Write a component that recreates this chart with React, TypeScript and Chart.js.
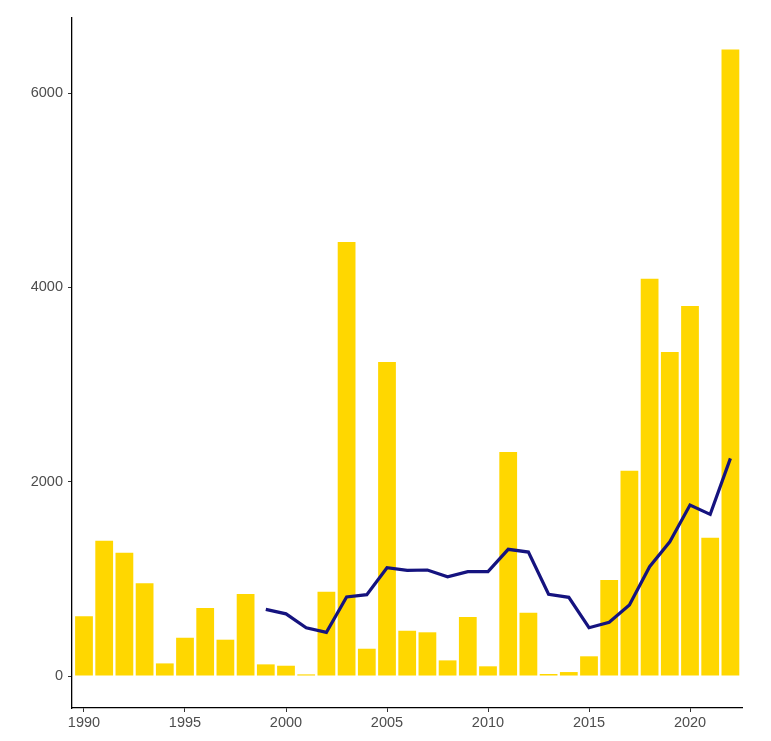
import React, { useEffect, useRef } from "react";
import { Chart, registerables } from "chart.js";

Chart.register(...registerables);

const years = [
  1990, 1991, 1992, 1993, 1994, 1995, 1996, 1997, 1998, 1999, 2000, 2001,
  2002, 2003, 2004, 2005, 2006, 2007, 2008, 2009, 2010, 2011, 2012, 2013,
  2014, 2015, 2016, 2017, 2018, 2019, 2020, 2021, 2022,
];
const barValues = [
  614, 1393, 1269, 954, 130, 394, 700, 374, 844, 120, 106, 17,
  868, 4466, 281, 3231, 466, 450, 161, 607, 100, 2305, 651, 21,
  41, 203, 988, 2113, 4089, 3334, 3808, 1423, 6449,
];
const lineYears = [
  1999, 2000, 2001, 2002, 2003, 2004, 2005, 2006, 2007, 2008, 2009, 2010,
  2011, 2012, 2013, 2014, 2015, 2016, 2017, 2018, 2019, 2020, 2021, 2022,
];
const lineValues = [
  686, 640, 497, 450, 813, 837, 1115, 1088, 1091, 1022, 1074, 1074,
  1304, 1276, 841, 810, 497, 553, 731, 1125, 1382, 1760, 1664, 2240,
];
const xTicks = [1990, 1995, 2000, 2005, 2010, 2015, 2020];
const yTicks = [0, 2000, 4000, 6000];

export default function App() {
  const ref = useRef<HTMLCanvasElement | null>(null);
  useEffect(() => {
    if (!ref.current) return;
    const font = { family: "'Liberation Sans', Arial, sans-serif", size: 14.5 };
    const chart = new Chart(ref.current, {
      type: "bar",
      data: {
        datasets: [
          {
            type: "line",
            data: lineYears.map((x, i) => ({ x, y: lineValues[i] })),
            borderColor: "#15137f",
            borderWidth: 3.2,
            pointRadius: 0,
            tension: 0,
            fill: false,
            order: 0,
          } as any,
          {
            type: "bar",
            data: years.map((x, i) => ({ x, y: barValues[i] })),
            backgroundColor: "#FFD700",
            borderWidth: 0,
            barPercentage: 0.88,
            categoryPercentage: 1,
            order: 1,
          } as any,
        ],
      },
      options: {
        responsive: false,
        animation: false,
        layout: { padding: { top: 18, right: 29, left: 0, bottom: 0 } },
        plugins: { legend: { display: false }, tooltip: { enabled: false } },
        scales: {
          x: {
            type: "linear",
            min: 1989.406,
            max: 2022.574,
            offset: false,
            grid: {
              display: true,
              offset: false,
              drawOnChartArea: false,
              drawTicks: true,
              tickLength: 4,
              color: "#333333",
            },
            border: { display: true, color: "#000000", width: 1.3 },
            ticks: {
              color: "#4d4d4d",
              font,
              padding: 2,
              maxRotation: 0,
              autoSkip: false,
              callback: (v: any) => String(v),
            },
            afterBuildTicks: (scale: any) => {
              scale.ticks = xTicks.map((v) => ({ value: v }));
            },
            afterFit: (scale: any) => {
              scale.height = 33;
            },
          },
          y: {
            type: "linear",
            min: -329,
            max: 6772,
            grid: {
              display: true,
              drawOnChartArea: false,
              drawTicks: true,
              tickLength: 4,
              color: "#333333",
            },
            border: { display: true, color: "#000000", width: 1.3 },
            ticks: {
              color: "#4d4d4d",
              font,
              padding: 5,
              autoSkip: false,
              callback: (v: any) => String(v),
            },
            afterBuildTicks: (scale: any) => {
              scale.ticks = yTicks.map((v) => ({ value: v }));
            },
            afterFit: (scale: any) => {
              scale.width = 72;
            },
          },
        },
      },
    });
    return () => chart.destroy();
  }, []);
  return (
    <div style={{ position: "absolute", left: 0, top: 0, width: 771, height: 741, background: "#ffffff" }}>
      <canvas ref={ref} width={771} height={741} style={{ width: 771, height: 741, display: "block" }} />
    </div>
  );
}
